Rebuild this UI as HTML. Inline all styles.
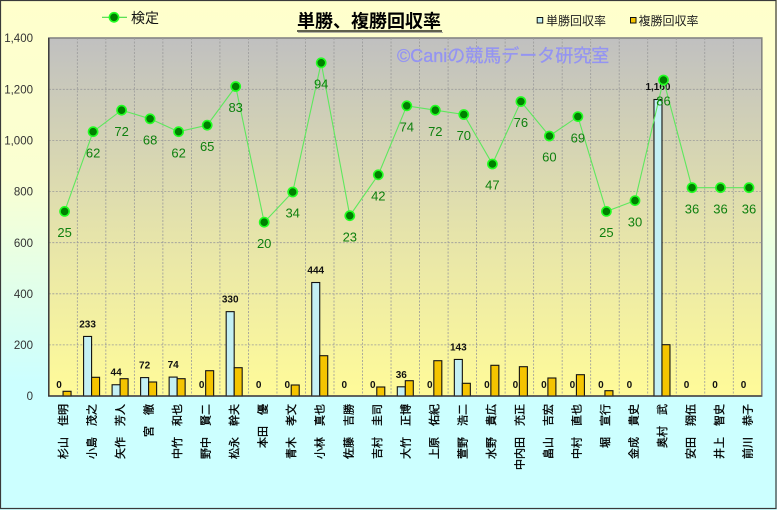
<!DOCTYPE html>
<html><head><meta charset="utf-8"><style>
html,body{margin:0;padding:0;background:#fff;}
svg{display:block;}
</style></head><body>
<svg width="777" height="510" viewBox="0 0 777 510" xmlns="http://www.w3.org/2000/svg">
<defs>
<linearGradient id="bg" x1="0" y1="0" x2="0" y2="1">
<stop offset="0" stop-color="#FFFFCC"/><stop offset="0.35" stop-color="#FAFFD2"/><stop offset="0.75" stop-color="#CCFFFF"/><stop offset="1" stop-color="#CCFFFF"/>
</linearGradient>
<linearGradient id="pg" x1="0" y1="0" x2="0" y2="1">
<stop offset="0" stop-color="#C0C0C0"/><stop offset="0.55" stop-color="#E6E4AA"/><stop offset="1" stop-color="#FFFB99"/>
</linearGradient>
</defs>
<rect x="0" y="0" width="777" height="510" fill="url(#bg)"/>
<rect x="0.5" y="0.5" width="775.5" height="508" fill="none" stroke="#3a3a3a" stroke-width="1.2"/>

<!-- plot area -->
<rect x="48.8" y="38" width="713" height="358" fill="url(#pg)" stroke="#858585" stroke-width="1.6"/>
<g stroke="#9a9a9a" stroke-width="0.8" stroke-dasharray="2,1.5">
<line x1="48.8" y1="344.9" x2="761.8" y2="344.9"/>
<line x1="48.8" y1="293.8" x2="761.8" y2="293.8"/>
<line x1="48.8" y1="242.7" x2="761.8" y2="242.7"/>
<line x1="48.8" y1="191.5" x2="761.8" y2="191.5"/>
<line x1="48.8" y1="140.4" x2="761.8" y2="140.4"/>
<line x1="48.8" y1="89.3" x2="761.8" y2="89.3"/>
<line x1="77.32" y1="38" x2="77.32" y2="396"/><line x1="105.84" y1="38" x2="105.84" y2="396"/>
<line x1="134.36" y1="38" x2="134.36" y2="396"/><line x1="162.88" y1="38" x2="162.88" y2="396"/>
<line x1="191.40" y1="38" x2="191.40" y2="396"/><line x1="219.92" y1="38" x2="219.92" y2="396"/>
<line x1="248.44" y1="38" x2="248.44" y2="396"/><line x1="276.96" y1="38" x2="276.96" y2="396"/>
<line x1="305.48" y1="38" x2="305.48" y2="396"/><line x1="334.00" y1="38" x2="334.00" y2="396"/>
<line x1="362.52" y1="38" x2="362.52" y2="396"/><line x1="391.04" y1="38" x2="391.04" y2="396"/>
<line x1="419.56" y1="38" x2="419.56" y2="396"/><line x1="448.08" y1="38" x2="448.08" y2="396"/>
<line x1="476.60" y1="38" x2="476.60" y2="396"/><line x1="505.12" y1="38" x2="505.12" y2="396"/>
<line x1="533.64" y1="38" x2="533.64" y2="396"/><line x1="562.16" y1="38" x2="562.16" y2="396"/>
<line x1="590.68" y1="38" x2="590.68" y2="396"/><line x1="619.20" y1="38" x2="619.20" y2="396"/>
<line x1="647.72" y1="38" x2="647.72" y2="396"/><line x1="676.24" y1="38" x2="676.24" y2="396"/>
<line x1="704.76" y1="38" x2="704.76" y2="396"/><line x1="733.28" y1="38" x2="733.28" y2="396"/>
</g>

<!-- watermark -->
<text x="397" y="62" font-family="Liberation Sans, Noto Sans CJK JP, sans-serif" font-size="18" fill="#9494F2" stroke="#9494F2" stroke-width="0.3">©Caniの競馬データ研究室</text>

<!-- bars: blue -->
<g fill="#C4F0F4" stroke="#111" stroke-width="1.1">
<rect x="83.58" y="336.45" width="8" height="59.55"/>
<rect x="112.10" y="384.75" width="8" height="11.25"/>
<rect x="140.62" y="377.6" width="8" height="18.4"/>
<rect x="169.14" y="377.09" width="8" height="18.91"/>
<rect x="226.18" y="311.65" width="8" height="84.35"/>
<rect x="311.74" y="282.51" width="8" height="113.49"/>
<rect x="397.30" y="386.8" width="8" height="9.2"/>
<rect x="454.34" y="359.45" width="8" height="36.55"/>
<rect x="653.98" y="99.5" width="8" height="296.5"/>
</g>
<!-- bars: orange -->
<g fill="#F5C400" stroke="#111" stroke-width="1.1">
<rect x="63.06" y="391.3" width="8" height="4.7"/>
<rect x="91.58" y="377.3" width="8" height="18.7"/>
<rect x="120.10" y="378.7" width="8" height="17.3"/>
<rect x="148.62" y="382" width="8" height="14"/>
<rect x="177.14" y="378.7" width="8" height="17.3"/>
<rect x="205.66" y="370.7" width="8" height="25.3"/>
<rect x="234.18" y="367.7" width="8" height="28.3"/>
<rect x="291.22" y="385" width="8" height="11"/>
<rect x="319.74" y="355.7" width="8" height="40.3"/>
<rect x="376.78" y="387" width="8" height="9"/>
<rect x="405.30" y="380.7" width="8" height="15.3"/>
<rect x="433.82" y="360.7" width="8" height="35.3"/>
<rect x="462.34" y="383.3" width="8" height="12.7"/>
<rect x="490.86" y="365.3" width="8" height="30.7"/>
<rect x="519.38" y="366.7" width="8" height="29.3"/>
<rect x="547.90" y="378" width="8" height="18"/>
<rect x="576.42" y="374.7" width="8" height="21.3"/>
<rect x="604.94" y="390.7" width="8" height="5.3"/>
<rect x="661.98" y="344.7" width="8" height="51.3"/>
</g>

<!-- axes -->
<line x1="48.8" y1="38" x2="48.8" y2="396.5" stroke="#333" stroke-width="1.3"/>
<line x1="48.3" y1="396" x2="761.8" y2="396" stroke="#333" stroke-width="1.3"/>

<!-- bar labels -->
<g font-family="Liberation Sans, sans-serif" font-size="10" font-weight="bold" fill="#111" text-anchor="middle">
<text x="59.06" y="388">0</text>
<text x="87.58" y="327.4">233</text>
<text x="116.10" y="375.7">44</text>
<text x="144.62" y="368.6">72</text>
<text x="173.14" y="368">74</text>
<text x="201.66" y="388">0</text>
<text x="230.18" y="302.6">330</text>
<text x="258.70" y="388">0</text>
<text x="287.22" y="388">0</text>
<text x="315.74" y="273.5">444</text>
<text x="344.26" y="388">0</text>
<text x="372.78" y="388">0</text>
<text x="401.30" y="377.8">36</text>
<text x="429.82" y="388">0</text>
<text x="458.34" y="350.4">143</text>
<text x="486.86" y="388">0</text>
<text x="515.38" y="388">0</text>
<text x="543.90" y="388">0</text>
<text x="572.42" y="388">0</text>
<text x="600.94" y="388">0</text>
<text x="629.46" y="388">0</text>
<text x="657.98" y="90">1,160</text>
<text x="686.50" y="388">0</text>
<text x="715.02" y="388">0</text>
<text x="743.54" y="388">0</text>
</g>

<!-- line series -->
<polyline fill="none" stroke="#5EE85E" stroke-width="1.1" points="64.6,211.4 93.1,131.7 121.6,110.2 150.1,118.8 178.6,131.7 207.2,125.2 235.7,86.5 264.2,222.2 292.7,192.0 321.2,62.8 349.8,215.7 378.3,174.8 406.8,105.8 435.3,110.2 463.8,114.5 492.4,164.0 520.9,101.5 549.4,136.0 577.9,116.6 606.4,211.4 635.0,200.6 663.5,80.0 692.0,187.7 720.5,187.7 749.0,187.7"/>
<g fill="#008000" stroke="#22FF22" stroke-width="1.6">
<circle cx="64.6" cy="211.4" r="4.6"/><circle cx="93.1" cy="131.7" r="4.6"/><circle cx="121.6" cy="110.2" r="4.6"/>
<circle cx="150.1" cy="118.8" r="4.6"/><circle cx="178.6" cy="131.7" r="4.6"/><circle cx="207.2" cy="125.2" r="4.6"/>
<circle cx="235.7" cy="86.5" r="4.6"/><circle cx="264.2" cy="222.2" r="4.6"/><circle cx="292.7" cy="192.0" r="4.6"/>
<circle cx="321.2" cy="62.8" r="4.6"/><circle cx="349.8" cy="215.7" r="4.6"/><circle cx="378.3" cy="174.8" r="4.6"/>
<circle cx="406.8" cy="105.8" r="4.6"/><circle cx="435.3" cy="110.2" r="4.6"/><circle cx="463.8" cy="114.5" r="4.6"/>
<circle cx="492.4" cy="164.0" r="4.6"/><circle cx="520.9" cy="101.5" r="4.6"/><circle cx="549.4" cy="136.0" r="4.6"/>
<circle cx="577.9" cy="116.6" r="4.6"/><circle cx="606.4" cy="211.4" r="4.6"/><circle cx="635.0" cy="200.6" r="4.6"/>
<circle cx="663.5" cy="80.0" r="4.6"/><circle cx="692.0" cy="187.7" r="4.6"/><circle cx="720.5" cy="187.7" r="4.6"/>
<circle cx="749.0" cy="187.7" r="4.6"/>
</g>
<g font-family="Liberation Sans, sans-serif" font-size="13" fill="#0E800E" text-anchor="middle">
<text x="64.6" y="237.1">25</text><text x="93.1" y="157.4">62</text><text x="121.6" y="135.9">72</text>
<text x="150.1" y="144.5">68</text><text x="178.6" y="157.4">62</text><text x="207.2" y="150.9">65</text>
<text x="235.7" y="112.2">83</text><text x="264.2" y="247.9">20</text><text x="292.7" y="217.7">34</text>
<text x="321.2" y="88.5">94</text><text x="349.8" y="241.4">23</text><text x="378.3" y="200.5">42</text>
<text x="406.8" y="131.5">74</text><text x="435.3" y="135.9">72</text><text x="463.8" y="140.2">70</text>
<text x="492.4" y="189.7">47</text><text x="520.9" y="127.2">76</text><text x="549.4" y="161.7">60</text>
<text x="577.9" y="142.3">69</text><text x="606.4" y="237.1">25</text><text x="635.0" y="226.3">30</text>
<text x="663.5" y="105.7">86</text><text x="692.0" y="213.4">36</text><text x="720.5" y="213.4">36</text>
<text x="749.0" y="213.4">36</text>
</g>

<!-- y axis labels -->
<g font-family="Liberation Sans, sans-serif" font-size="11.5" fill="#333" text-anchor="end">
<text x="33" y="400">0</text>
<text x="33" y="349">200</text>
<text x="33" y="298">400</text>
<text x="33" y="246.8">600</text>
<text x="33" y="195.6">800</text>
<text x="33" y="144.5">1,000</text>
<text x="33" y="93.4">1,200</text>
<text x="33" y="42.2">1,400</text>
</g>

<!-- x labels -->
<g font-family="Liberation Sans, Noto Sans CJK JP, sans-serif" font-size="11" fill="#000" stroke="#000" stroke-width="0.3" text-anchor="end">
<text transform="translate(63.06,404) rotate(-90)" y="4">杉山　佳明</text>
<text transform="translate(91.58,404) rotate(-90)" y="4">小島　茂之</text>
<text transform="translate(120.10,404) rotate(-90)" y="4">矢作　芳人</text>
<text transform="translate(148.62,404) rotate(-90)" y="4">宮　徹</text>
<text transform="translate(177.14,404) rotate(-90)" y="4">中竹　和也</text>
<text transform="translate(205.66,404) rotate(-90)" y="4">野中　賢二</text>
<text transform="translate(234.18,404) rotate(-90)" y="4">松永　幹夫</text>
<text transform="translate(262.70,404) rotate(-90)" y="4">本田　優</text>
<text transform="translate(291.22,404) rotate(-90)" y="4">青木　孝文</text>
<text transform="translate(319.74,404) rotate(-90)" y="4">小林　真也</text>
<text transform="translate(348.26,404) rotate(-90)" y="4">佐藤　吉勝</text>
<text transform="translate(376.78,404) rotate(-90)" y="4">吉村　圭司</text>
<text transform="translate(405.30,404) rotate(-90)" y="4">大竹　正博</text>
<text transform="translate(433.82,404) rotate(-90)" y="4">上原　佑紀</text>
<text transform="translate(462.34,404) rotate(-90)" y="4">萱野　浩二</text>
<text transform="translate(490.86,404) rotate(-90)" y="4">水野　貴広</text>
<text transform="translate(519.38,404) rotate(-90)" y="4">中内田　充正</text>
<text transform="translate(547.90,404) rotate(-90)" y="4">畠山　吉宏</text>
<text transform="translate(576.42,404) rotate(-90)" y="4">中村　直也</text>
<text transform="translate(604.94,404) rotate(-90)" y="4">堀　宣行</text>
<text transform="translate(633.46,404) rotate(-90)" y="4">金成　貴史</text>
<text transform="translate(661.98,404) rotate(-90)" y="4">奥村　武</text>
<text transform="translate(690.50,404) rotate(-90)" y="4">安田　翔伍</text>
<text transform="translate(719.02,404) rotate(-90)" y="4">井上　智史</text>
<text transform="translate(747.54,404) rotate(-90)" y="4">前川　恭子</text>
</g>

<!-- title -->
<text x="297" y="27.5" font-family="Liberation Sans, Noto Sans CJK JP, sans-serif" font-size="18" font-weight="bold" fill="#000">単勝、複勝回収率</text>
<line x1="297" y1="31" x2="442" y2="31" stroke="#000" stroke-width="1.3"/>
<line x1="298" y1="32.5" x2="443" y2="32.5" stroke="#999" stroke-width="0.8"/>

<!-- legend left -->
<line x1="102" y1="17.3" x2="127" y2="17.3" stroke="#44DD44" stroke-width="1.2"/>
<circle cx="114" cy="17.3" r="4.6" fill="#008000" stroke="#22FF22" stroke-width="1.6"/>
<text x="131" y="23" font-family="Liberation Sans, Noto Sans CJK JP, sans-serif" font-size="14" fill="#111">検定</text>

<!-- legend right -->
<rect x="537.2" y="17.5" width="5.5" height="5.5" fill="#C4F0F4" stroke="#111" stroke-width="1"/>
<text x="546" y="25" font-family="Liberation Sans, Noto Sans CJK JP, sans-serif" font-size="12" fill="#222">単勝回収率</text>
<rect x="630.5" y="17.5" width="5.5" height="5.5" fill="#F5C400" stroke="#111" stroke-width="1"/>
<text x="638.5" y="25" font-family="Liberation Sans, Noto Sans CJK JP, sans-serif" font-size="12" fill="#222">複勝回収率</text>
</svg>
</body></html>
